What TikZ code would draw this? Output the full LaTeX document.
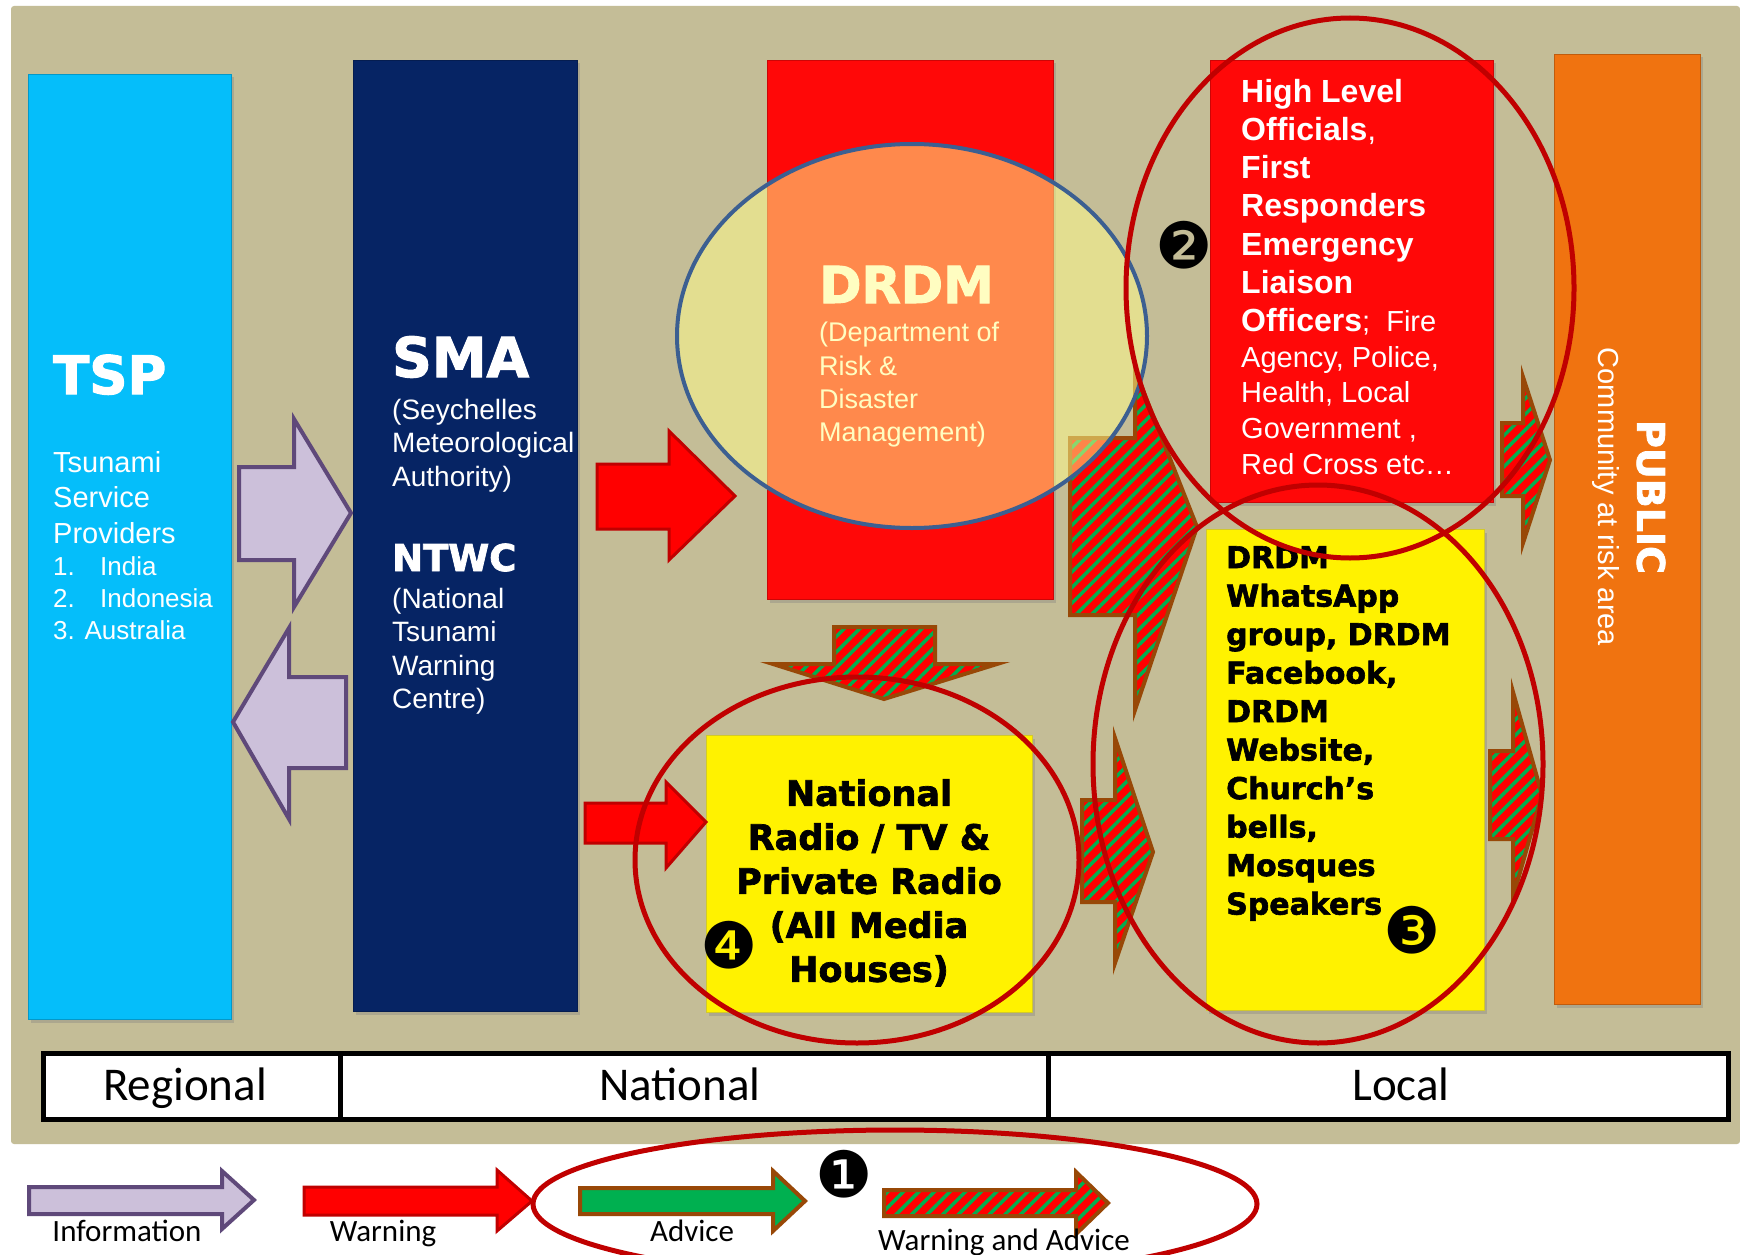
\documentclass[tikz,border=0pt]{standalone}
\usepackage{fontspec}
\setmainfont{Liberation Sans}
\newfontfamily\heavyfont[FakeBold=2]{DejaVu Sans Bold}
\newfontfamily\calibrifont{Carlito}
\newfontfamily\dingfont{DejaVu Sans}
\usetikzlibrary{patterns.meta,shadows}

\definecolor{tanbg}{RGB}{196,189,151}
\definecolor{tspblue}{RGB}{5,190,250}
\definecolor{smanavy}{RGB}{6,36,100}
\definecolor{drdmred}{RGB}{255,8,8}
\definecolor{pubor}{RGB}{240,115,16}
\definecolor{ringred}{RGB}{192,0,0}
\definecolor{ovalfill}{RGB}{255,253,138}
\definecolor{ovalblue}{RGB}{60,95,145}
\definecolor{lilac}{RGB}{204,192,218}
\definecolor{lilacline}{RGB}{95,73,122}
\definecolor{warnline}{RGB}{192,0,0}
\definecolor{hatchbrown}{RGB}{152,72,7}
\definecolor{advgreen}{RGB}{0,176,80}

\begin{document}
\begin{tikzpicture}[x=1pt, y=-1pt,
    box/.style={anchor=north west, inner sep=0pt, fill=#1, draw=#1!80!black, line width=1pt,
        drop shadow={shadow xshift=2pt, shadow yshift=-3pt, opacity=0.35}},
    lbl/.style={text=white, inner sep=0pt, align=left, anchor=north west},
    infoarrow/.style={fill=lilac, draw=lilacline, line width=4pt},
    warnarrow/.style={fill=red, draw=warnline, line width=3pt},
    advarrow/.style={fill=advgreen, draw=hatchbrown, line width=4pt},
    mixarrow/.style={draw=hatchbrown, line width=4pt, preaction={fill=red},
        pattern={Lines[angle=45,distance=11pt,line width=3.5pt]}, pattern color=advgreen},
    ring/.style={draw=ringred, line width=5pt},
    num/.style={font=\dingfont\fontsize{64}{64}\selectfont, inner sep=0pt},
    bar/.style={anchor=north west, draw=black, fill=white, line width=4.5pt, minimum height=66pt},
    barlbl/.style={anchor=base, inner sep=0pt, font=\calibrifont\fontsize{47}{50}\selectfont},
    legendlbl/.style={anchor=base, inner sep=0pt, font=\calibrifont\fontsize{31}{34}\selectfont}]

    \fill[white] (0,0) rectangle (1740,1255);
    \useasboundingbox (0,0) rectangle (1740,1255);
    \fill[tanbg, rounded corners=3pt] (11,6) rectangle (1740,1144);

    \node[box=tspblue, minimum width=203pt, minimum height=945pt] (tsp) at (28,74) {};
    \node[box=smanavy, minimum width=224pt, minimum height=951pt] (sma) at (353,60) {};
    \node[box=drdmred, minimum width=286pt, minimum height=539pt] (drdm) at (767,60) {};
    \node[box=drdmred, minimum width=283pt, minimum height=442pt] (officials) at (1210,60) {};
    \node[box=pubor, minimum width=146pt, minimum height=950pt] (public) at (1554,54) {};
    \node[box=yellow, minimum width=278pt, minimum height=481pt] (channels) at (1206,529) {};
    \node[box=yellow, minimum width=326pt, minimum height=277pt] (media) at (706,735) {};

    \node[lbl, anchor=base west, font=\heavyfont\fontsize{53}{60}\selectfont] (tsptitle) at (53,394) {TSP};
    \node[lbl, font=\fontsize{29}{35.5}\selectfont] (tspname) at (53,451) {Tsunami\\Service\\Providers};
    \node[lbl, font=\fontsize{26}{32}\selectfont] (tsplist) at (53,556)
        {\makebox[47pt][l]{1.}India\\\makebox[47pt][l]{2.}Indonesia\\3. Australia};

    \node[lbl, anchor=base west, font=\heavyfont\fontsize{55}{60}\selectfont] (smatitle) at (392,377) {SMA};
    \node[lbl, font=\fontsize{28}{33.5}\selectfont] (smaname) at (392,399) {(Seychelles\\Meteorological\\Authority)};
    \node[lbl, anchor=base west, font=\heavyfont\fontsize{37}{40}\selectfont] (ntwctitle) at (392,571) {NTWC};
    \node[lbl, font=\fontsize{28}{33.5}\selectfont] (ntwcname) at (392,588) {(National\\Tsunami\\Warning\\Centre)};

    \node[lbl, anchor=base west, font=\heavyfont\fontsize{51}{55}\selectfont] (drdmtitle) at (819,303) {DRDM};
    \node[lbl, font=\fontsize{27}{33.3}\selectfont] (drdmname) at (819,322) {(Department of\\Risk \&\\Disaster\\Management)};

    \node[lbl, font=\bfseries\fontsize{32}{38.2}\selectfont] (offbold) at (1241,79)
        {High Level\\Officials{\mdseries,}\\First\\Responders\\Emergency\\Liaison\\Officers{\mdseries\fontsize{29}{38.2}\selectfont;\ \ Fire}};
    \node[lbl, font=\fontsize{29}{35.7}\selectfont] (offreg) at (1241,346) {Agency, Police,\\Health, Local\\Government ,\\Red Cross etc…};

    \node[lbl, text=black, font=\heavyfont\fontsize{30}{38.5}\selectfont] (chantext) at (1226,546)
        {DRDM\\WhatsApp\\group, DRDM\\Facebook,\\DRDM\\Website,\\Church’s\\bells,\\Mosques\\Speakers};
    \node[inner sep=0pt, align=center, anchor=north, font=\heavyfont\fontsize{35}{44}\selectfont] (mediatext) at (869,779)
        {National\\Radio / TV \&\\Private Radio\\(All Media\\Houses)};

    \node[rotate=-90, text=white, inner sep=0pt, font=\heavyfont\fontsize{38}{40}\selectfont] (pubtitle) at (1651,497) {PUBLIC};
    \node[rotate=-90, text=white, inner sep=0pt, font=\fontsize{29}{32}\selectfont] (pubtext) at (1606,497) {Community at risk area};

    \draw[infoarrow] (239,467) -- (294,467) -- (294,419) -- (351,513) -- (294,607) -- (294,560) -- (239,560) -- cycle;
    \draw[infoarrow] (346,677) -- (289,677) -- (289,628) -- (233,722) -- (289,819) -- (289,768) -- (346,768) -- cycle;
    \draw[warnarrow] (597,464) -- (669,464) -- (669,431) -- (735,496) -- (669,560) -- (669,529) -- (597,529) -- cycle;
    \draw[warnarrow] (585,803) -- (666,803) -- (666,782) -- (706,822) -- (666,868) -- (666,843) -- (585,843) -- cycle;

    \draw[mixarrow] (834,627) -- (935,627) -- (935,664) -- (997,664) -- (884,699) -- (773,664) -- (834,664) -- cycle;
    \draw[mixarrow] (1070,438) -- (1135,438) -- (1135,370) -- (1197,527) -- (1135,710) -- (1135,615) -- (1070,615) -- cycle;
    \draw[mixarrow] (1082,800) -- (1115,800) -- (1115,738) -- (1153,852) -- (1115,963) -- (1115,902) -- (1082,902) -- cycle;
    \draw[mixarrow] (1502,423) -- (1523,423) -- (1523,377) -- (1550,460) -- (1523,543) -- (1523,496) -- (1502,496) -- cycle;
    \draw[mixarrow] (1490,751) -- (1513,751) -- (1513,692) -- (1542,795) -- (1513,897) -- (1513,839) -- (1490,839) -- cycle;

    \draw[ovalblue, line width=4pt, fill=ovalfill, fill opacity=0.53] (912,336) ellipse [x radius=235pt, y radius=192pt];

    \node[bar, minimum width=297pt] (regional) at (41,1051) {};
    \node[bar, minimum width=708pt] (national) at (338,1051) {};
    \node[bar, minimum width=680pt] (local) at (1046,1051) {};
    \node[barlbl] (regionallbl) at (185,1100) {Regional};
    \node[barlbl] (nationallbl) at (680,1100) {National};
    \node[barlbl] (locallbl) at (1401,1100) {Local};

    \draw[infoarrow] (29,1187) -- (222,1187) -- (222,1171) -- (254,1200) -- (222,1229) -- (222,1214) -- (29,1214) -- cycle;
    \draw[warnarrow] (304,1187) -- (497,1187) -- (497,1170) -- (532,1201) -- (497,1231) -- (497,1215) -- (304,1215) -- cycle;
    \draw[advarrow] (580,1188) -- (773,1188) -- (773,1171) -- (805,1201) -- (773,1231) -- (773,1214) -- (580,1214) -- cycle;
    \draw[mixarrow] (884,1190) -- (1076,1190) -- (1076,1172) -- (1108,1203) -- (1076,1234) -- (1076,1216) -- (884,1216) -- cycle;
    \node[legendlbl] (infolbl) at (127,1241) {Information};
    \node[legendlbl] (warnlbl) at (383,1241) {Warning};
    \node[legendlbl] (advlbl) at (692,1241) {Advice};
    \node[legendlbl] (mixlbl) at (1004,1250) {Warning and Advice};

    \draw[ring] (1350,288) ellipse [x radius=224pt, y radius=270pt];
    \draw[ring] (1318,764) ellipse [x radius=225pt, y radius=279pt];
    \draw[ring] (857,860) ellipse [x radius=222pt, y radius=183pt];
    \draw[ring] (895,1204) ellipse [x radius=362pt, y radius=74pt];

    \node[num] (n1) at (844,1174) {❶};
    \node[num] (n2) at (1184,245) {❷};
    \node[num] (n3) at (1412,930) {❸};
    \node[num] (n4) at (729,945) {❹};
\end{tikzpicture}
\end{document}
